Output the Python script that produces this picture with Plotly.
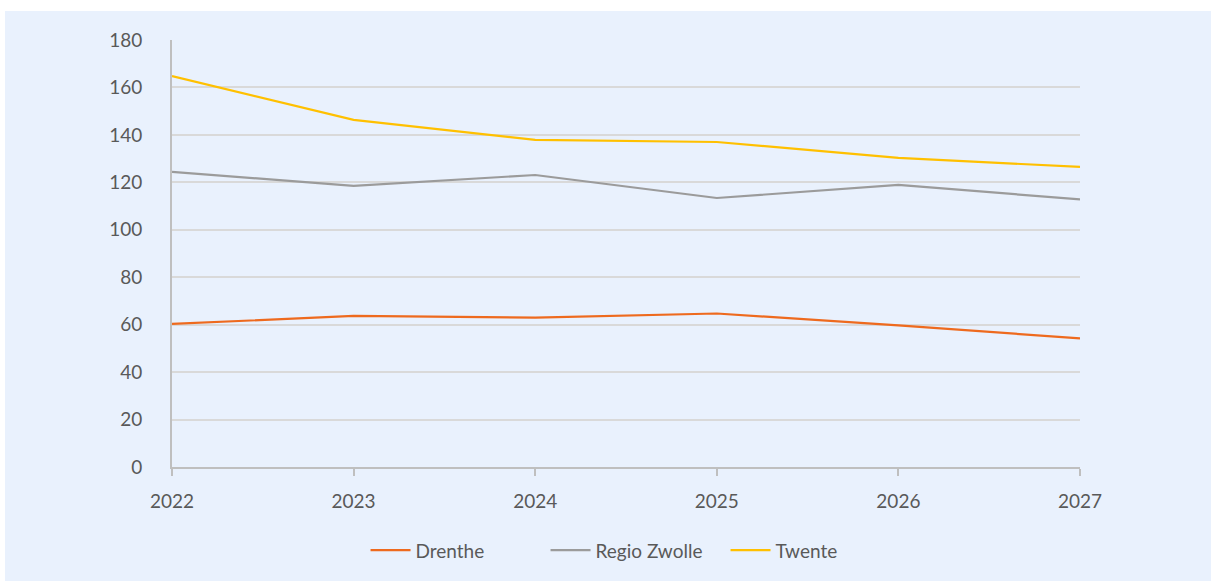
import plotly.graph_objects as go

years = ["2022", "2023", "2024", "2025", "2026", "2027"]
drenthe = [60.3, 63.7, 63.0, 64.7, 59.7, 54.2]
regio_zwolle = [124.4, 118.5, 123.1, 113.4, 118.9, 112.8]
twente = [164.8, 146.3, 137.9, 137.0, 130.3, 126.5]

series = [
    ("Drenthe", drenthe, "#EE6A1E"),
    ("Regio Zwolle", regio_zwolle, "#9B9B9B"),
    ("Twente", twente, "#FFC000"),
]

BG = "#E9F1FD"
fig = go.Figure()
for name, vals, col in series:
    fig.add_trace(go.Scatter(x=years, y=vals, name=name, mode="lines",
                             line=dict(color=col, width=2.2)))

L, R, T, B = 172, 131, 40, 114
W, H = 1211, 581
pw, ph = W - L - R, H - T - B

fig.update_layout(
    width=W, height=H,
    margin=dict(l=L, r=R, t=T, b=B, pad=0),
    paper_bgcolor="white",
    plot_bgcolor=BG,
    font=dict(family="Lato, sans-serif", size=19, color="#595959"),
    showlegend=True,
    legend=dict(orientation="h", x=0.5105, xanchor="center", y=-0.195, yanchor="middle",
                font=dict(size=19, color="#595959"), bgcolor="rgba(0,0,0,0)",
                traceorder="normal", itemwidth=40, entrywidth=125),
    shapes=[dict(type="rect", xref="paper", yref="paper", layer="below",
                 x0=(5 - L) / pw, x1=(W - L) / pw,
                 y0=-B / ph, y1=(T + ph - 11) / ph,
                 fillcolor=BG, line=dict(width=0))],
)
fig.update_xaxes(type="category", range=[0, 5], showgrid=False,
                 showline=True, linecolor="#BFBFBF", linewidth=2,
                 ticks="outside", ticklen=7, tickcolor="#BFBFBF", tickwidth=2,
                 ticklabelstandoff=9, zeroline=False, tickfont=dict(size=19))
fig.update_yaxes(range=[0, 180], dtick=20, showgrid=True, gridcolor="#D9D9D9", gridwidth=2,
                 showline=True, linecolor="#BFBFBF", linewidth=2, zeroline=False,
                 ticks="", ticklabelstandoff=24, tickfont=dict(size=19))

fig.write_html("out.html", config={"displayModeBar": False},
               post_script="document.body.style.margin='0';document.body.style.overflow='hidden';")
